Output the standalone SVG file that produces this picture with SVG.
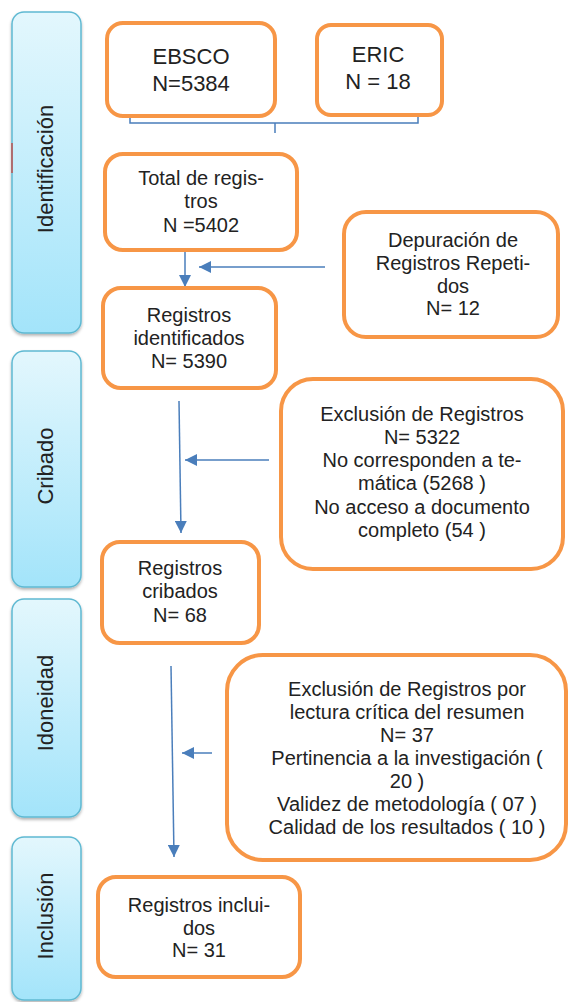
<svg xmlns="http://www.w3.org/2000/svg" width="568" height="1002" viewBox="0 0 568 1002">
<defs>
<linearGradient id="sideGrad" x1="0" y1="0" x2="0" y2="1">
<stop offset="0" stop-color="#e3f7fd"/>
<stop offset="1" stop-color="#a3e4fa"/>
</linearGradient>
<filter id="shadow" x="-20%" y="-10%" width="140%" height="120%">
<feDropShadow dx="0" dy="2" stdDeviation="1.5" flood-color="#000" flood-opacity="0.3"/>
</filter>
<marker id="arrow" viewBox="0 0 12 12" refX="12" refY="6" markerWidth="12" markerHeight="12" markerUnits="userSpaceOnUse" orient="auto">
<path d="M0,0 L12,6 L0,12 Z" fill="#4a7ebb"/>
</marker>
</defs>
<style>
.side{fill:url(#sideGrad);stroke:#5fb9d2;stroke-width:1.5;filter:url(#shadow)}
.box{fill:#fff;stroke:#f79646;stroke-width:4}
.t{font-family:"Liberation Sans",Arial,sans-serif;font-size:20px;fill:#222;text-anchor:middle}
.big{font-size:22px}
.st{font-family:"Liberation Sans",Arial,sans-serif;font-size:22px;fill:#222;text-anchor:middle}
.con{fill:none;stroke:#4a7ebb;stroke-width:1.5}
</style>
<rect width="568" height="1002" fill="#fff"/>

<g id="side-identificacion">
<rect class="side" x="12" y="12" width="69" height="321" rx="12"/>
<line x1="12" y1="143" x2="12" y2="173" stroke="#c0504d" stroke-width="1.5"/>
<text class="st" transform="translate(53,169) rotate(-90)">Identificación</text>
</g>
<g id="side-cribado">
<rect class="side" x="12" y="351" width="69" height="236" rx="12"/>
<text class="st" transform="translate(53,466) rotate(-90)">Cribado</text>
</g>
<g id="side-idoneidad">
<rect class="side" x="12" y="599" width="69" height="218" rx="12"/>
<text class="st" transform="translate(53,703) rotate(-90)">Idoneidad</text>
</g>
<g id="side-inclusion">
<rect class="side" x="12" y="837" width="69" height="163" rx="12"/>
<text class="st" transform="translate(53,916) rotate(-90)">Inclusión</text>
</g>

<g id="connectors">
<path class="con" d="M130,116 V123 H418 V115"/>
<path class="con" d="M275,123 V133"/>
<line class="con" x1="185" y1="250" x2="185" y2="287" marker-end="url(#arrow)"/>
<line class="con" x1="325" y1="267" x2="199" y2="267" marker-end="url(#arrow)"/>
<line class="con" x1="179" y1="401" x2="181" y2="533" marker-end="url(#arrow)"/>
<line class="con" x1="269" y1="460" x2="185" y2="460" marker-end="url(#arrow)"/>
<line class="con" x1="171" y1="666" x2="174" y2="857" marker-end="url(#arrow)"/>
<line class="con" x1="212" y1="753" x2="182" y2="753" marker-end="url(#arrow)"/>
</g>

<g id="ebsco">
<rect class="box" x="107" y="23" width="168" height="93" rx="16"/>
<text class="t big" x="191" y="64">EBSCO</text>
<text class="t big" x="191" y="91">N=5384</text>
</g>
<g id="eric">
<rect class="box" x="317" y="25" width="125" height="90" rx="14"/>
<text class="t big" x="378" y="62">ERIC</text>
<text class="t big" x="378" y="89">N = 18</text>
</g>
<g id="total">
<rect class="box" x="105" y="154" width="192" height="96" rx="18"/>
<text class="t" x="201" y="185">Total de regis-</text>
<text class="t" x="201" y="208">tros</text>
<text class="t" x="201" y="232">N =5402</text>
</g>
<g id="depuracion">
<rect class="box" x="344" y="212" width="214" height="125" rx="22"/>
<text class="t" x="453" y="247">Depuración de</text>
<text class="t" x="453" y="270">Registros Repeti-</text>
<text class="t" x="453" y="293">dos</text>
<text class="t" x="453" y="315">N= 12</text>
</g>
<g id="identificados">
<rect class="box" x="103" y="288" width="173" height="100" rx="18"/>
<text class="t" x="189" y="322">Registros</text>
<text class="t" x="189" y="345">identificados</text>
<text class="t" x="189" y="368">N= 5390</text>
</g>
<g id="exclusion">
<rect class="box" x="281" y="379" width="282" height="190" rx="32"/>
<text class="t" x="422" y="421">Exclusión de Registros</text>
<text class="t" x="422" y="444">N= 5322</text>
<text class="t" x="422" y="467">No corresponden a te-</text>
<text class="t" x="422" y="490">mática (5268 )</text>
<text class="t" x="422" y="514">No acceso a documento</text>
<text class="t" x="422" y="537">completo (54 )</text>
</g>
<g id="cribados">
<rect class="box" x="102" y="542" width="157" height="101" rx="18"/>
<text class="t" x="180" y="575">Registros</text>
<text class="t" x="180" y="598">cribados</text>
<text class="t" x="180" y="622">N= 68</text>
</g>
<g id="lectura">
<rect class="box" x="227" y="655" width="339" height="205" rx="36"/>
<text class="t" x="407" y="696">Exclusión de Registros por</text>
<text class="t" x="407" y="719">lectura crítica del resumen</text>
<text class="t" x="407" y="742">N= 37</text>
<text class="t" x="407" y="765">Pertinencia a la investigación (</text>
<text class="t" x="407" y="788">20 )</text>
<text class="t" x="407" y="811">Validez de metodología ( 07 )</text>
<text class="t" x="407" y="834">Calidad de los resultados ( 10 )</text>
</g>
<g id="incluidos">
<rect class="box" x="98" y="877" width="202" height="100" rx="18"/>
<text class="t" x="199" y="912">Registros inclui-</text>
<text class="t" x="199" y="935">dos</text>
<text class="t" x="199" y="957">N= 31</text>
</g>
</svg>
